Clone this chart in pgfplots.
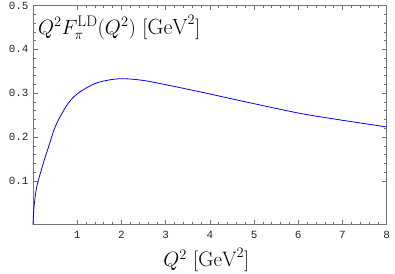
\documentclass[border=0pt]{standalone}
\usepackage{fontspec}
\usepackage{pgfplots}
\pgfplotsset{compat=1.18}
\newfontfamily\monofont{Liberation Mono}
\definecolor{framegray}{gray}{0.45}
\begin{document}
\begin{tikzpicture}
\begin{axis}[
  scale only axis,
  width=353.7bp, height=219.2bp,
  at={(0,0)}, anchor=south west,
  xmin=0, xmax=8, ymin=0, ymax=0.5,
  xtick={1,2,3,4,5,6,7,8},
  ytick={0.1,0.2,0.3,0.4,0.5},
  minor x tick num=4, minor y tick num=4,
  tick align=inside,
  major tick length=4.5bp, minor tick length=2.5bp,
  axis line style={framegray, line width=0.6pt},
  every tick/.style={framegray, line width=0.5pt},
  xticklabel style={font=\monofont\fontsize{11}{12}\selectfont, text=black!85, yshift=-3bp},
  yticklabel style={font=\monofont\fontsize{11}{12}\selectfont, text=black!85, xshift=-1bp},
  /pgf/number format/assume math mode=true,
  yticklabel={\pgfmathprintnumber[fixed,precision=1,fixed zerofill]{\tick}},
  xlabel={$Q^2\ [\mathrm{GeV}^2]$},
  xlabel style={font=\fontsize{21}{24}\selectfont, at={(rel axis cs:0.49,0)}, anchor=north, yshift=-20bp},
  clip=false,
]
\addplot[blue, line width=0.8pt, smooth, tension=0.5] coordinates {
(0,0) (0.023,0.040) (0.084,0.086) (0.233,0.140) (0.385,0.188) (0.46,0.212)
(0.57,0.238) (0.79,0.276) (1.02,0.300) (1.4,0.322) (1.77,0.331) (2.07,0.333)
(2.5,0.329) (3.02,0.319) (3.78,0.303) (4.91,0.278) (6.04,0.254) (6.95,0.239) (8,0.223)
};
\node[anchor=west, font=\fontsize{22}{25}\selectfont, inner sep=2bp] at (rel axis cs:0.008,0.90) {$Q^2F_\pi^{\mathrm{LD}}(Q^2)\ [\mathrm{GeV}^2]$};
\end{axis}
\pgfresetboundingbox
\path (-33bp,-49.3bp) rectangle (362bp,224.7bp);
\end{tikzpicture}
\end{document}
